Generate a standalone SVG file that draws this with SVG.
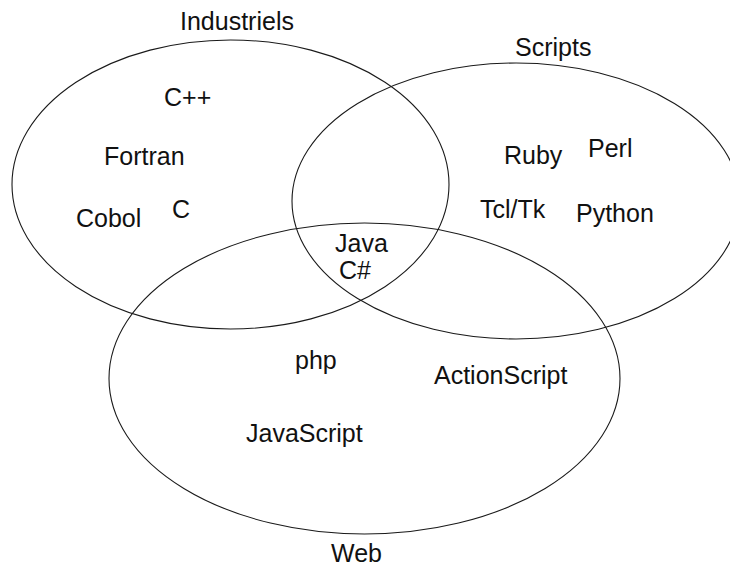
<svg xmlns="http://www.w3.org/2000/svg" width="730" height="570" viewBox="0 0 730 570">
<style>
.set{fill:none;stroke:#1a1a1a;stroke-width:1.1}
text{font-family:"Liberation Sans",Arial,sans-serif;font-size:25px;fill:#111}
</style>
<rect width="730" height="570" fill="#fff"/>
<g id="industriels">
<ellipse class="set" cx="230.5" cy="184.5" rx="218.5" ry="144.5"/>
<text x="180" y="30">Industriels</text>
</g>
<g id="scripts">
<ellipse class="set" cx="516" cy="201" rx="224" ry="138"/>
<text x="515" y="56">Scripts</text>
</g>
<g id="web">
<ellipse class="set" cx="364.5" cy="378.5" rx="255.5" ry="155.5"/>
<text x="331" y="562">Web</text>
</g>
<g id="items-industriels">
<text x="164" y="106">C++</text>
<text x="104" y="165">Fortran</text>
<text x="76" y="227">Cobol</text>
<text x="172" y="218">C</text>
</g>
<g id="items-common">
<text x="335" y="252">Java</text>
<text x="339" y="279">C#</text>
</g>
<g id="items-scripts">
<text x="504" y="164">Ruby</text>
<text x="588" y="157">Perl</text>
<text x="480" y="218">Tcl/Tk</text>
<text x="576" y="222">Python</text>
</g>
<g id="items-web">
<text x="295" y="369">php</text>
<text x="434" y="384">ActionScript</text>
<text x="246" y="442">JavaScript</text>
</g>
</svg>
